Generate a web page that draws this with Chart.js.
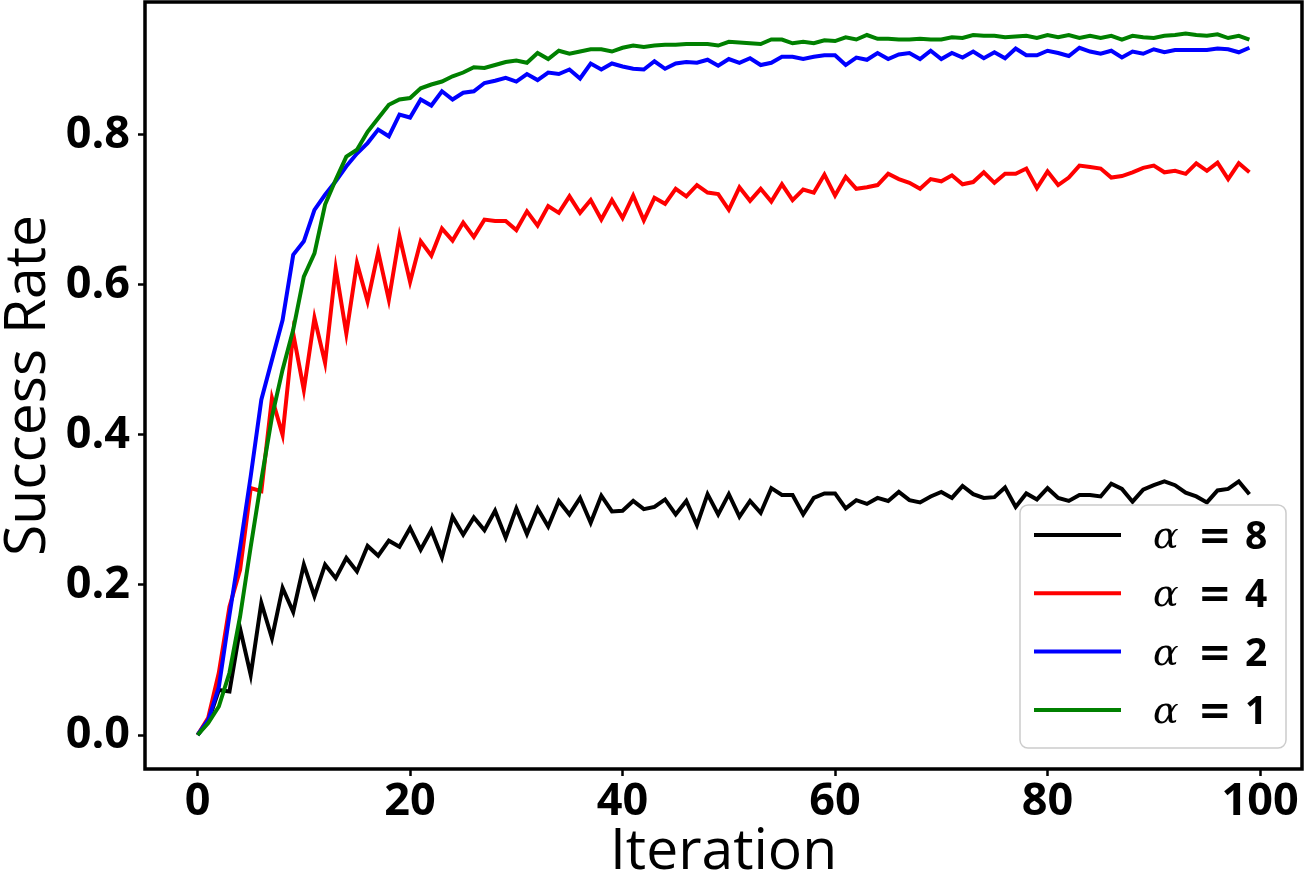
<!DOCTYPE html>
<html>
<head>
<meta charset="utf-8">
<script src="https://cdn.jsdelivr.net/npm/chart.js@4.4.1/dist/chart.umd.min.js"></script>
<style>
html,body{margin:0;padding:0;background:#fff;}
#wrap{width:1306px;height:889px;}
</style>
</head>
<body>
<div id="wrap"><canvas id="c" width="1306" height="889"></canvas></div>
<script>
// ---- data ----
const iterations = Array.from({length: 100}, (_, i) => i);
const seriesLabels = ['α = 8', 'α = 4', 'α = 2', 'α = 1'];
const seriesColors = ['#000000', '#ff0000', '#0000ff', '#008000'];
const xTicks = [0, 20, 40, 60, 80, 100];
const yTicks = [0.0, 0.2, 0.4, 0.6, 0.8];
const xTitle = 'Iteration';
const yTitle = 'Success Rate';

const alpha8 = [0,0.018,0.06,0.058,0.142,0.08,0.176,0.129,0.196,0.164,
0.227,0.185,0.227,0.209,0.236,0.218,0.252,0.239,0.259,0.251,
0.276,0.247,0.273,0.237,0.291,0.267,0.290,0.273,0.299,0.263,
0.302,0.268,0.302,0.278,0.312,0.294,0.316,0.283,0.319,0.298,
0.299,0.312,0.301,0.304,0.314,0.294,0.312,0.280,0.321,0.294,
0.321,0.291,0.312,0.296,0.329,0.320,0.320,0.294,0.316,0.322,
0.322,0.302,0.313,0.308,0.316,0.312,0.324,0.313,0.310,0.318,
0.324,0.316,0.332,0.321,0.316,0.317,0.330,0.304,0.322,0.314,
0.329,0.316,0.312,0.320,0.320,0.318,0.335,0.328,0.311,0.327,
0.333,0.338,0.333,0.323,0.318,0.310,0.326,0.328,0.338,0.321];

const alpha4 = [0,0.023,0.083,0.171,0.22,0.329,0.325,0.449,0.40,0.535,
0.46,0.556,0.496,0.622,0.535,0.629,0.578,0.644,0.58,0.665,
0.604,0.658,0.639,0.675,0.659,0.683,0.664,0.687,0.685,0.685,
0.673,0.698,0.679,0.705,0.696,0.718,0.696,0.713,0.687,0.713,
0.689,0.719,0.686,0.716,0.708,0.728,0.718,0.733,0.723,0.721,
0.700,0.730,0.712,0.728,0.711,0.734,0.713,0.727,0.723,0.747,
0.719,0.744,0.728,0.730,0.733,0.748,0.741,0.736,0.728,0.741,
0.738,0.746,0.734,0.737,0.750,0.736,0.748,0.748,0.755,0.729,
0.751,0.733,0.743,0.759,0.757,0.755,0.743,0.745,0.750,0.756,
0.759,0.750,0.752,0.748,0.762,0.752,0.763,0.741,0.762,0.750];

const alpha2 = [0,0.02,0.064,0.16,0.25,0.345,0.447,0.50,0.553,0.64,
0.658,0.70,0.72,0.738,0.758,0.775,0.789,0.807,0.798,0.827,
0.823,0.847,0.839,0.858,0.847,0.856,0.858,0.869,0.872,0.876,
0.871,0.881,0.873,0.883,0.881,0.887,0.875,0.895,0.887,0.895,
0.891,0.888,0.887,0.898,0.888,0.895,0.897,0.896,0.900,0.892,
0.901,0.896,0.902,0.893,0.896,0.904,0.904,0.901,0.904,0.906,
0.906,0.893,0.903,0.900,0.909,0.901,0.907,0.909,0.901,0.912,
0.901,0.909,0.903,0.911,0.902,0.910,0.902,0.915,0.906,0.906,
0.912,0.909,0.905,0.916,0.911,0.908,0.912,0.903,0.911,0.908,
0.914,0.910,0.913,0.913,0.913,0.913,0.915,0.914,0.910,0.916];

const alpha1 = [0,0.016,0.038,0.083,0.158,0.251,0.34,0.424,0.487,0.54,
0.611,0.642,0.707,0.74,0.771,0.78,0.804,0.822,0.84,0.847,
0.849,0.862,0.867,0.871,0.878,0.883,0.890,0.889,0.893,0.897,
0.899,0.896,0.909,0.901,0.912,0.908,0.911,0.914,0.914,0.911,
0.916,0.919,0.917,0.919,0.920,0.920,0.921,0.921,0.921,0.919,
0.924,0.923,0.922,0.921,0.927,0.927,0.922,0.924,0.922,0.926,
0.925,0.930,0.927,0.933,0.928,0.928,0.927,0.927,0.928,0.927,
0.927,0.930,0.929,0.933,0.932,0.932,0.930,0.931,0.932,0.929,
0.933,0.930,0.933,0.929,0.932,0.929,0.932,0.927,0.932,0.930,
0.929,0.932,0.933,0.935,0.933,0.932,0.934,0.929,0.932,0.927];

const seriesValues = [alpha8, alpha4, alpha2, alpha1];

// ---- plugins ----
const framePlugin = {
  id: 'frame',
  afterDatasetsDraw(chart) {
    const a = chart.chartArea, ctx = chart.ctx;
    ctx.save();
    ctx.strokeStyle = '#000';
    ctx.lineWidth = 3.5;
    ctx.strokeRect(a.left, a.top, a.right - a.left, a.bottom - a.top);
    ctx.restore();
  }
};

const legendPlugin = {
  id: 'insideLegend',
  afterDraw(chart) {
    const ctx = chart.ctx, a = chart.chartArea;
    const bx = a.right - 282, by = a.bottom - 264, bw = 266, bh = 243, r = 8;
    ctx.save();
    ctx.beginPath();
    ctx.moveTo(bx + r, by);
    ctx.arcTo(bx + bw, by, bx + bw, by + bh, r);
    ctx.arcTo(bx + bw, by + bh, bx, by + bh, r);
    ctx.arcTo(bx, by + bh, bx, by, r);
    ctx.arcTo(bx, by, bx + bw, by, r);
    ctx.closePath();
    ctx.fillStyle = 'rgba(255,255,255,0.8)';
    ctx.fill();
    ctx.strokeStyle = '#cccccc';
    ctx.lineWidth = 1.5;
    ctx.stroke();
    chart.data.datasets.forEach((ds, i) => {
      const y = by + 30 + i * 58.3;
      ctx.strokeStyle = ds.borderColor;
      ctx.lineWidth = 4;
      ctx.beginPath();
      ctx.moveTo(bx + 14, y);
      ctx.lineTo(bx + 101, y);
      ctx.stroke();
      const parts = ds.label.split(' ');
      const tx = bx + 133;
      ctx.fillStyle = '#000';
      ctx.textBaseline = 'alphabetic';
      ctx.font = 'italic 38px "DejaVu Serif"';
      ctx.fillText(parts[0], tx, y + 13);
      ctx.font = 'bold 40px "DejaVu Sans"';
      ctx.fillText(parts[1], tx + 45, y + 14);
      ctx.font = 'bold 39px "Open Sans"';
      ctx.fillText(parts[2], tx + 92, y + 14);
    });
    ctx.restore();
  }
};

const datasets = seriesValues.map((vals, i) => ({
  label: seriesLabels[i],
  data: vals.map((v, j) => ({x: iterations[j], y: v})),
  borderColor: seriesColors[i],
  backgroundColor: seriesColors[i],
  borderWidth: 4,
  pointRadius: 0,
  tension: 0,
  fill: false,
  order: seriesValues.length - 1 - i
}));

new Chart(document.getElementById('c'), {
  type: 'line',
  data: { datasets },
  plugins: [framePlugin, legendPlugin],
  options: {
    responsive: false,
    animation: false,
    devicePixelRatio: 1,
    layout: { padding: { top: 2, right: 4, left: 0, bottom: 0 } },
    plugins: { legend: { display: false }, tooltip: { enabled: false } },
    scales: {
      x: {
        type: 'linear',
        min: -4.95, max: 103.95,
        afterFit: s => { s.height = 120; s.paddingLeft = 0; s.paddingRight = 0; },
        afterBuildTicks: s => { s.ticks = xTicks.map(v => ({value: v})); },
        grid: { display: true, drawOnChartArea: false, tickLength: 7, tickWidth: 2.5, color: '#000' },
        border: { display: false },
        ticks: {
          color: '#000', padding: 4, maxRotation: 0, autoSkip: false,
          font: { family: '"Open Sans"', size: 45, weight: 'bold', lineHeight: 1 },
          callback: v => String(v)
        },
        title: {
          display: true, text: xTitle, color: '#000',
          font: { family: '"Open Sans"', size: 57, weight: 'normal', lineHeight: 1 },
          padding: { top: 0, bottom: 8 }
        }
      },
      y: {
        type: 'linear',
        min: -0.0453, max: 0.977,
        afterFit: s => { s.width = 145; s.paddingTop = 0; s.paddingBottom = 0; },
        afterBuildTicks: s => { s.ticks = yTicks.map(v => ({value: v})); },
        grid: { display: true, drawOnChartArea: false, tickLength: 7, tickWidth: 2.5, color: '#000' },
        border: { display: false },
        ticks: {
          color: '#000', padding: 8, autoSkip: false,
          font: { family: '"Open Sans"', size: 45, weight: 'bold', lineHeight: 1 },
          callback: v => v.toFixed(1)
        },
        title: {
          display: true, text: yTitle, color: '#000',
          font: { family: '"Open Sans"', size: 57, weight: 'normal', lineHeight: 1 },
          padding: { top: 0, bottom: 0 }
        }
      }
    }
  }
});
</script>
</body>
</html>
